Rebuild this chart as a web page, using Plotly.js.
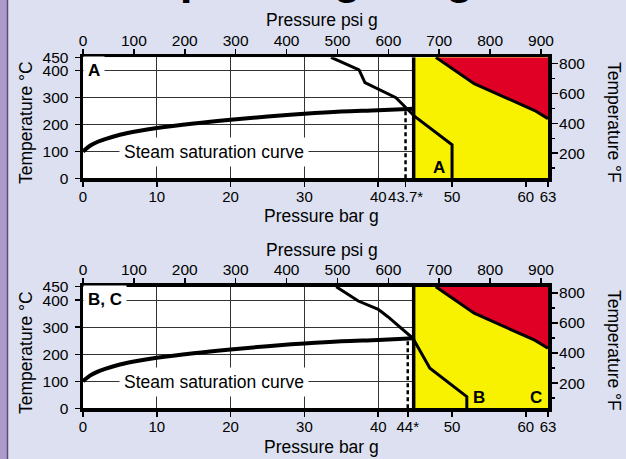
<!DOCTYPE html>
<html>
<head>
<meta charset="utf-8">
<script src="https://cdn.plot.ly/plotly-3.0.1.min.js"></script>
<style>
  html, body { margin: 0; padding: 0; background: #dce0f0; }
  #chart { width: 626px; height: 459px; }
</style>
</head>
<body>
<div id="chart"></div>
<script>
// ---------- data ----------
const barTicks = [0, 10, 20, 30, 40, 43.7, 50, 60, 63];
const barTickTextA = ['0', '10', '20', '30', '40', '43.7*', '50', '60', '63'];
const barTicksB = [0, 10, 20, 30, 40, 44, 50, 60, 63];
const barTickTextB = ['0', '10', '20', '30', '40', '44*', '50', '60', '63'];
const barGrid = [10, 20, 30, 40];
const psiTicks = [0, 100, 200, 300, 400, 500, 600, 700, 800, 900];
const celsiusTicks = [0, 100, 200, 300, 400, 450];
const fahrenheitTicks = [200, 400, 600, 800];
const fahrenheitMinor = [100, 300, 500, 700];

const barMax = 63;
const psiMax = 913.7;
const celsiusMax = 450;
const fahrenheitRange = [32, 842];

// steam saturation curve (bar g, deg C)
const satPressure = [0, 1, 2, 3, 5, 7.5, 10, 15, 20, 25, 30, 35, 40, 44.8];
const satTemp = [100, 122, 136, 146, 162, 176, 187, 204, 218, 230, 240, 248, 253, 259];

// yellow zone (bar g)
const yellowFrom = 44.8;
const yellowP = [yellowFrom, barMax, barMax, yellowFrom];
const yellowT = [0, 0, 450, 450];

// red zone boundary (bar g, deg C)
const redP = [47.8, 53.0, 61.2, 63, 63];
const redT = [450, 352, 252, 222, 450];

// limit curve A
const limitAP = [33.6, 37.4, 38.2, 40.0, 42.4, 44.9, 50, 50];
const limitAT = [450, 403, 356, 331, 300, 231, 125, 0];
// limit curve B, C
const limitBP = [34.3, 37.3, 40.0, 41.3, 44.7, 47.0, 52, 52];
const limitBT = [450, 397, 366, 339, 259, 148, 43, 0];

// dotted design-pressure markers
const markAP = [43.7, 43.7];
const markAT = [0, 250];
const markBP = [44, 44];
const markBT = [0, 252];

// ---------- styling ----------
const FF = '"Liberation Sans", Arial, Helvetica, sans-serif';
const tickFont = { family: FF, size: 15.5, color: '#000' };
const barTickFont = { family: FF, size: 15, color: '#000' };
const titleFont = { family: FF, size: 17.5, color: '#000' };
const boldFont = { family: FF, size: 17, color: '#000', weight: 'bold' };
const YELLOW = '#f8f200';
const RED = '#e00025';
const W = 626, H = 459;

const xDom = [83 / W, 548 / W];
const yDomA = [1 - 178.3 / H, 1 - 57.3 / H];
const yDomB = [1 - 408.3 / H, 1 - 286.7 / H];

function panelTraces(xa, ya, limP, limT, mkP, mkT, psiA, fA, gridA) {
  const base = { type: 'scatter', hoverinfo: 'skip', showlegend: false };
  return [
    Object.assign({}, base, { mode: 'none', x: [0, psiMax], y: fahrenheitRange, xaxis: psiA, yaxis: fA }),
    Object.assign({}, base, { mode: 'none', x: [0, barMax], y: [0, celsiusMax], xaxis: gridA, yaxis: ya }),
    Object.assign({}, base, { mode: 'lines', x: yellowP, y: yellowT, fill: 'toself', fillcolor: YELLOW,
      line: { width: 0, color: YELLOW }, xaxis: xa, yaxis: ya }),
    Object.assign({}, base, { mode: 'lines', x: redP, y: redT, fill: 'toself', fillcolor: RED,
      line: { width: 0, color: RED }, xaxis: xa, yaxis: ya }),
    Object.assign({}, base, { mode: 'lines', x: redP.slice(0, 4), y: redT.slice(0, 4),
      line: { width: 3, color: '#000' }, xaxis: xa, yaxis: ya }),
    Object.assign({}, base, { mode: 'lines', x: [yellowFrom, yellowFrom], y: [0, celsiusMax],
      line: { width: 3.5, color: '#000' }, xaxis: xa, yaxis: ya }),
    Object.assign({}, base, { mode: 'lines', x: mkP, y: mkT,
      line: { width: 2.5, color: '#000', dash: '4px,3px' }, xaxis: xa, yaxis: ya }),
    Object.assign({}, base, { mode: 'lines', x: satPressure, y: satTemp,
      line: { width: 4, color: '#000', shape: 'spline' }, xaxis: xa, yaxis: ya }),
    Object.assign({}, base, { mode: 'lines', x: limP, y: limT, line: { width: 3, color: '#000' },
      xaxis: xa, yaxis: ya })
  ];
}

const data = [].concat(
  panelTraces('x', 'y', limitAP, limitAT, markAP, markAT, 'x2', 'y2', 'x5'),
  panelTraces('x3', 'y3', limitBP, limitBT, markBP, markBT, 'x4', 'y4', 'x6')
);

function barAxis(anchor, tv, tt) {
  return { domain: xDom, anchor: anchor, range: [0, barMax], tickmode: 'array', tickvals: tv, ticktext: tt,
    tickangle: 0, ticks: 'outside', ticklen: 5, tickwidth: 1.5, tickcolor: '#000', tickfont: barTickFont,
    ticklabelstandoff: -3,
    showgrid: false, zeroline: false, showline: true, linewidth: 3.5, linecolor: '#000', automargin: false };
}
function gridAxis(over, anchor) {
  return { domain: xDom, overlaying: over, anchor: anchor, range: [0, barMax], tickmode: 'array', tickvals: barGrid,
    showticklabels: false, ticks: '', showgrid: true, gridcolor: '#333', gridwidth: 1.2, zeroline: false,
    showline: false, automargin: false };
}
function psiAxis(over, anchor) {
  return { domain: xDom, overlaying: over, anchor: anchor, side: 'top', range: [0, psiMax], tickmode: 'array',
    tickvals: psiTicks, tickangle: 0, ticks: 'outside', ticklen: 5, tickwidth: 1.5, tickcolor: '#000', tickfont: tickFont,
    ticklabelstandoff: -3,
    showgrid: false, zeroline: false, showline: true, linewidth: 3.5, linecolor: '#000', automargin: false };
}
function cAxis(dom, anchor) {
  return { domain: dom, anchor: anchor, range: [0, celsiusMax], tickmode: 'array', tickvals: celsiusTicks,
    ticks: 'outside', ticklen: 5, tickwidth: 1.5, tickcolor: '#000', tickfont: tickFont,
    ticklabelstandoff: 3,
    showgrid: true, gridcolor: '#333', gridwidth: 1.2, zeroline: false, showline: true, linewidth: 3.5, linecolor: '#000',
    automargin: false };
}
function fAxis(over, anchor) {
  return { overlaying: over, anchor: anchor, side: 'right', range: fahrenheitRange, tickmode: 'array',
    tickvals: fahrenheitTicks, ticks: 'outside', ticklen: 6.5, tickwidth: 1.5, tickcolor: '#000', tickfont: tickFont,
    ticklabelstandoff: -2,
    minor: { tickmode: 'array', tickvals: fahrenheitMinor, ticks: 'outside', ticklen: 3, tickwidth: 1.5, tickcolor: '#000', showgrid: false },
    showgrid: false, zeroline: false, showline: true, linewidth: 3.5, linecolor: '#000', automargin: false };
}

function lbl(xa, ya, x, y, text, opts) {
  return Object.assign({ xref: xa, yref: ya, x: x, y: y, text: text, showarrow: false, font: titleFont,
    xanchor: 'center', yanchor: 'middle' }, opts || {});
}
function px(x, y, text, opts) {
  return lbl('paper', 'paper', x / W, 1 - y / H, text, opts);
}

const annotations = [
  // cut-off heading
  { xref: 'paper', yref: 'paper', x: 0.513, y: 1, xanchor: 'center', yanchor: 'bottom', yshift: -5, showarrow: false,
    text: '<b>Operating range</b>', font: { family: FF, size: 46, color: '#000' } },
  // axis titles, panel A
  px(322, 20.5, 'Pressure psi g'),
  px(321, 216.5, 'Pressure bar g'),
  px(26, 123, 'Temperature °C', { textangle: -90 }),
  px(614, 122, 'Temperature °F', { textangle: 90 }),
  // axis titles, panel B
  px(322, 250, 'Pressure psi g'),
  px(321, 446.5, 'Pressure bar g'),
  px(26, 353, 'Temperature °C', { textangle: -90 }),
  px(614, 350, 'Temperature °F', { textangle: 90 }),
  // panel A labels
  lbl('x', 'y', 0, 402, '<b>A</b>', { xanchor: 'left', bgcolor: '#fff', borderpad: 4, font: boldFont }),
  lbl('x', 'y', 17.8, 97, 'Steam saturation curve', { bgcolor: '#fff', borderpad: 4 }),
  lbl('x', 'y', 48.2, 40, '<b>A</b>', { font: boldFont }),
  // panel B, C labels
  lbl('x3', 'y3', 0, 402, '<b>B, C</b>', { xanchor: 'left', bgcolor: '#fff', borderpad: 4, font: boldFont }),
  lbl('x3', 'y3', 17.8, 97, 'Steam saturation curve', { bgcolor: '#fff', borderpad: 4 }),
  lbl('x3', 'y3', 53.6, 40, '<b>B</b>', { font: boldFont }),
  lbl('x3', 'y3', 61.4, 40, '<b>C</b>', { font: boldFont })
];

const layout = {
  width: W, height: H,
  margin: { l: 0, r: 0, t: 0, b: 0 },
  paper_bgcolor: '#dce0f0',
  plot_bgcolor: '#ffffff',
  showlegend: false,
  font: { family: FF, color: '#000' },
  xaxis: barAxis('y', barTicks, barTickTextA),
  xaxis2: psiAxis('x', 'y'),
  xaxis5: gridAxis('x', 'y'),
  yaxis: cAxis(yDomA, 'x'),
  yaxis2: fAxis('y', 'x'),
  xaxis3: barAxis('y3', barTicksB, barTickTextB),
  xaxis4: psiAxis('x3', 'y3'),
  xaxis6: gridAxis('x3', 'y3'),
  yaxis3: cAxis(yDomB, 'x3'),
  yaxis4: fAxis('y3', 'x3'),
  shapes: [
    { type: 'rect', xref: 'paper', yref: 'paper', x0: 0, x1: 7 / W, y0: 0, y1: 1, fillcolor: '#ab9bca', line: { width: 0 }, layer: 'below' },
    { type: 'line', xref: 'paper', yref: 'paper', x0: 7.5 / W, x1: 7.5 / W, y0: 0, y1: 1, line: { width: 1.5, color: '#5b4b7d' }, layer: 'below' }
  ],
  annotations: annotations
};

Plotly.newPlot('chart', data, layout, { staticPlot: true, displayModeBar: false });
</script>
</body>
</html>
